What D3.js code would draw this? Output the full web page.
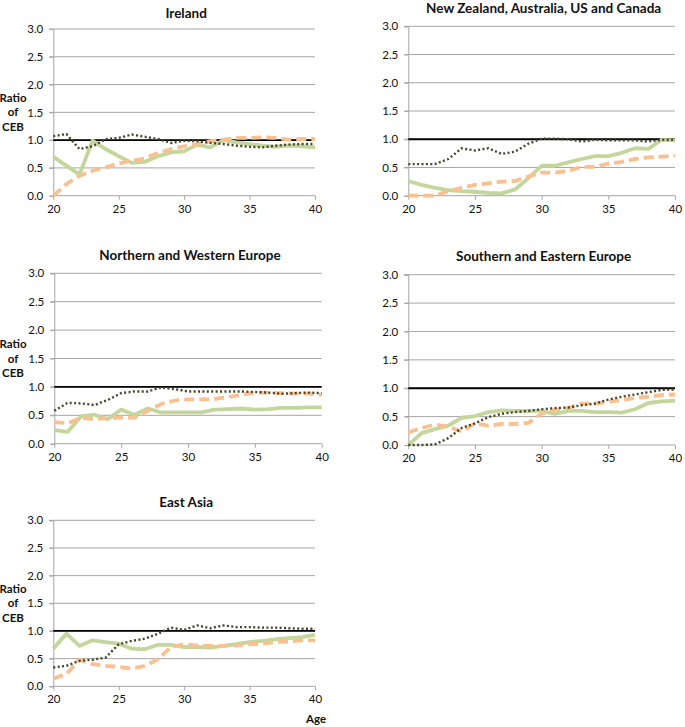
<!DOCTYPE html>
<html>
<head>
<meta charset="utf-8">
<script src="https://cdn.jsdelivr.net/npm/d3@7"></script>
<style>
  body { margin: 0; background: #fff; }
  svg { display: block; }
  text { font-family: Lato, "Open Sans", sans-serif; fill: #111; }
</style>
</head>
<body>
<svg id="chart" width="685" height="727"></svg>
<script>
// ---- Data ----
const ages = [20,21,22,23,24,25,26,27,28,29,30,31,32,33,34,35,36,37,38,39,40];
const yTicks = [0, 0.5, 1.0, 1.5, 2.0, 2.5, 3.0];
const xTicks = [20, 25, 30, 35, 40];
const panelTitles = ["Ireland", "New Zealand, Australia, US and Canada", "Northern and Western Europe", "Southern and Eastern Europe", "East Asia"];

const irelandDotted = [1.07,1.11,0.84,0.89,1.02,1.04,1.10,1.06,1.02,0.95,0.99,0.98,0.95,0.93,0.90,0.88,0.87,0.90,0.92,0.93,0.93];
const irelandGreen  = [0.70,0.54,0.38,0.99,0.84,0.71,0.59,0.61,0.71,0.78,0.80,0.92,0.87,1.00,0.96,0.93,0.90,0.88,0.90,0.89,0.87];
const irelandOrange = [0.00,0.21,0.36,0.45,0.51,0.58,0.63,0.67,0.77,0.84,0.89,0.93,0.98,1.01,1.04,1.04,1.05,1.04,1.01,1.02,1.02];

const nzDotted = [0.56,0.56,0.56,0.65,0.84,0.80,0.84,0.74,0.78,0.92,1.01,1.01,1.00,0.96,0.99,0.98,0.98,0.98,0.96,0.99,0.99];
const nzGreen  = [0.26,0.19,0.14,0.10,0.08,0.07,0.05,0.04,0.11,0.31,0.53,0.53,0.59,0.65,0.70,0.70,0.76,0.84,0.83,0.99,0.98];
const nzOrange = [0.00,0.00,0.00,0.08,0.14,0.19,0.22,0.25,0.26,0.34,0.41,0.41,0.44,0.51,0.51,0.57,0.60,0.65,0.68,0.69,0.71];

const nweDotted = [0.58,0.72,0.71,0.68,0.77,0.89,0.92,0.92,0.99,0.96,0.92,0.92,0.92,0.92,0.92,0.91,0.90,0.88,0.89,0.90,0.89];
const nweGreen  = [0.24,0.21,0.48,0.51,0.43,0.60,0.51,0.62,0.55,0.55,0.55,0.55,0.60,0.61,0.62,0.60,0.61,0.63,0.63,0.64,0.64];
const nweOrange = [0.38,0.36,0.46,0.43,0.45,0.46,0.46,0.58,0.70,0.76,0.78,0.78,0.79,0.82,0.86,0.90,0.90,0.89,0.88,0.88,0.86];

const seeDotted = [0.00,0.00,0.01,0.12,0.30,0.38,0.49,0.55,0.58,0.60,0.63,0.65,0.66,0.70,0.73,0.80,0.85,0.89,0.93,0.97,0.98];
const seeGreen  = [0.00,0.21,0.28,0.34,0.48,0.51,0.58,0.61,0.60,0.60,0.60,0.55,0.60,0.60,0.58,0.58,0.57,0.63,0.74,0.77,0.78];
const seeOrange = [0.22,0.30,0.36,0.32,0.24,0.38,0.34,0.37,0.37,0.39,0.55,0.62,0.65,0.73,0.73,0.76,0.79,0.83,0.85,0.88,0.89];

const eaDotted = [0.34,0.37,0.46,0.48,0.52,0.76,0.82,0.86,0.95,1.06,1.02,1.10,1.05,1.10,1.07,1.07,1.06,1.06,1.05,1.04,1.04];
const eaGreen  = [0.68,0.95,0.73,0.83,0.80,0.77,0.68,0.67,0.75,0.75,0.71,0.71,0.70,0.73,0.76,0.80,0.82,0.85,0.87,0.89,0.93];
const eaOrange = [0.14,0.22,0.48,0.40,0.37,0.35,0.32,0.37,0.49,0.71,0.76,0.74,0.73,0.73,0.74,0.76,0.77,0.80,0.81,0.83,0.83];

const referenceLevel = 1.0;

// ---- Layout ----
const panels = [
  { title: panelTitles[0], dotted: irelandDotted, green: irelandGreen, orange: irelandOrange,
    x0: 53.3, x1: 315, yTop: 29, yBot: 195.7, titleY: 13, ylabel: true, xlabel: false },
  { title: panelTitles[1], dotted: nzDotted, green: nzGreen, orange: nzOrange,
    x0: 408.3, x1: 675, yTop: 26.3, yBot: 195.7, titleY: 8, ylabel: false, xlabel: false },
  { title: panelTitles[2], dotted: nweDotted, green: nweGreen, orange: nweOrange,
    x0: 54.3, x1: 321.7, yTop: 273.3, yBot: 443.7, titleY: 255, ylabel: true, xlabel: false },
  { title: panelTitles[3], dotted: seeDotted, green: seeGreen, orange: seeOrange,
    x0: 408.3, x1: 675, yTop: 274.7, yBot: 445, titleY: 256, ylabel: false, xlabel: false },
  { title: panelTitles[4], dotted: eaDotted, green: eaGreen, orange: eaOrange,
    x0: 53.3, x1: 315, yTop: 520.3, yBot: 686.3, titleY: 502, ylabel: true, xlabel: true }
];

const svg = d3.select("#chart");
const gridColor = "#a6a6a6";
const fontFam = "Lato, 'Open Sans', sans-serif";

panels.forEach(p => {
  const x = d3.scaleLinear().domain([20, 40]).range([p.x0, p.x1]);
  const y = d3.scaleLinear().domain([0, 3]).range([p.yBot, p.yTop]);
  const g = svg.append("g");

  // gridlines
  g.selectAll("line.grid").data(yTicks.filter(t => t > 0)).join("line")
    .attr("x1", p.x0 - 4).attr("x2", p.x1)
    .attr("y1", d => y(d)).attr("y2", d => y(d))
    .attr("stroke", gridColor).attr("stroke-width", 1);

  // y axis
  const yAxis = d3.axisLeft(y).tickValues(yTicks).tickFormat(d3.format(".1f")).tickSize(4).tickPadding(6);
  const ya = g.append("g").attr("transform", `translate(${p.x0},0)`).call(yAxis);
  ya.select(".domain").attr("stroke", gridColor);
  ya.selectAll(".tick line").attr("stroke", gridColor);
  ya.selectAll(".tick text").style("font-family", fontFam).style("font-size", "11.5px").attr("fill", "#222");

  // x axis
  const xAxis = d3.axisBottom(x).tickValues(xTicks).tickFormat(d3.format("d")).tickSize(4).tickPadding(5);
  const xa = g.append("g").attr("transform", `translate(0,${p.yBot})`).call(xAxis);
  xa.select(".domain").attr("stroke", gridColor).attr("d", `M${p.x0},0H${p.x1}`);
  xa.selectAll(".tick line").attr("stroke", gridColor);
  xa.selectAll(".tick text").style("font-family", fontFam).style("font-size", "11.5px").attr("fill", "#222");

  // reference line at 1.0
  g.append("line")
    .attr("x1", x(20)).attr("x2", x(40))
    .attr("y1", y(referenceLevel)).attr("y2", y(referenceLevel))
    .attr("stroke", "#000").attr("stroke-width", 1.8);

  const line = d3.line().x((d, i) => x(ages[i])).y(d => y(d));

  g.append("path").datum(p.green).attr("d", line)
    .attr("fill", "none").attr("stroke", "#c3d69b").attr("stroke-width", 3.8)
    .attr("stroke-linejoin", "round");
  g.append("path").datum(p.orange).attr("d", line)
    .attr("fill", "none").attr("stroke", "#fac090").attr("stroke-width", 3.8)
    .attr("stroke-dasharray", "10,5");
  g.append("path").datum(p.dotted).attr("d", line)
    .attr("fill", "none").attr("stroke", "#494429").attr("stroke-width", 2.4)
    .attr("stroke-dasharray", "2,2.4");

  // title
  g.append("text")
    .attr("x", (p.x0 + p.x1) / 2 + 2).attr("y", p.titleY + 5)
    .attr("text-anchor", "middle")
    .style("font-size", "13.5px").style("font-weight", "bold")
    .text(p.title);

  if (p.ylabel) {
    const cy = y(1.5);
    ["Ratio", "of", "CEB"].forEach((t, i) => {
      g.append("text")
        .attr("x", 13).attr("y", cy + (i - 1) * 14.5 + 4)
        .attr("text-anchor", "middle")
        .style("font-size", "11.5px").style("font-weight", "bold")
        .text(t);
    });
  }
  if (p.xlabel) {
    g.append("text")
      .attr("x", p.x1 + 1).attr("y", p.yBot + 37)
      .attr("text-anchor", "middle")
      .style("font-size", "11.5px").style("font-weight", "bold")
      .text("Age");
  }
});
</script>
</body>
</html>
